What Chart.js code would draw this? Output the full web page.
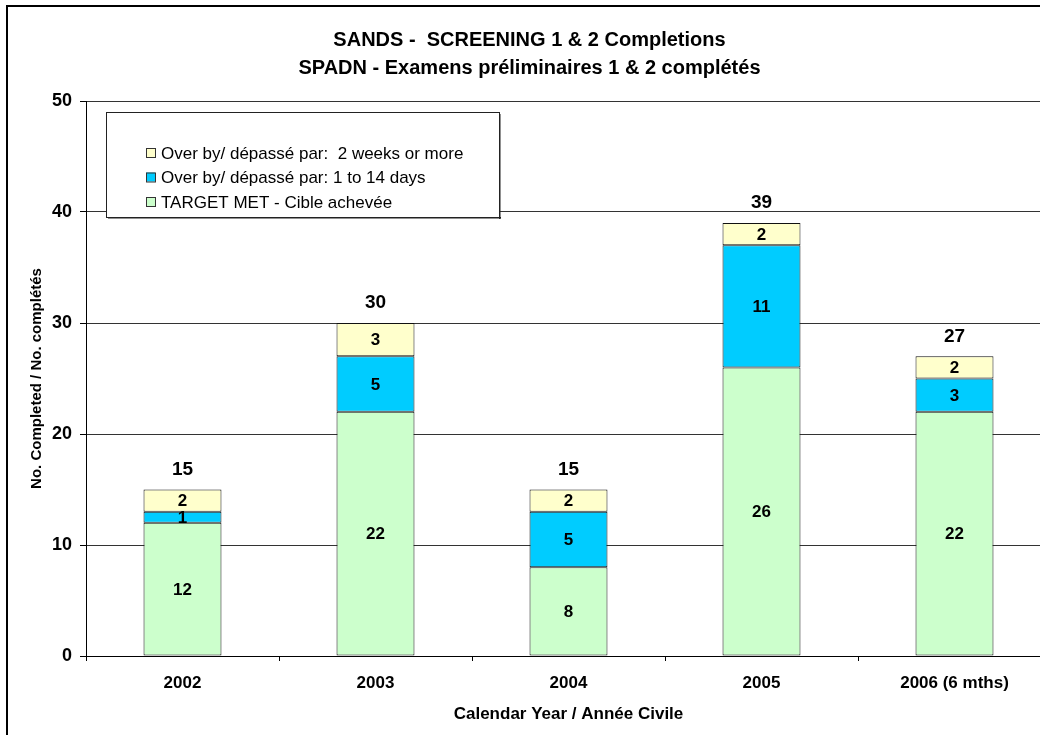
<!DOCTYPE html>
<html>
<head>
<meta charset="utf-8">
<title>SANDS - Screening 1 & 2 Completions</title>
<script src="https://cdn.jsdelivr.net/npm/chart.js@4.4.1/dist/chart.umd.min.js"></script>
<style>
  html, body { margin: 0; padding: 0; background: #fff; overflow: hidden; }
  #wrap { position: relative; width: 1060px; height: 735px; }
  #completionsChart { display: block; }
</style>
</head>
<body>
<div id="wrap"><canvas id="completionsChart" width="1060" height="735"></canvas></div>
<script>
const FONT = "'Liberation Sans', Arial, Helvetica, sans-serif";

const years = ['2002', '2003', '2004', '2005', '2006 (6 mths)'];
const targetMet = [12, 22, 8, 26, 22];
const overOneTo14Days = [1, 5, 5, 11, 3];
const overTwoWeeks = [2, 3, 2, 2, 2];
const yTicks = [0, 10, 20, 30, 40, 50];

const titleLines = ['SANDS -  SCREENING 1 & 2 Completions', 'SPADN - Examens préliminaires 1 & 2 complétés'];

Chart.defaults.font.family = FONT;
Chart.defaults.color = '#000';

// outer frame of the chart object
const frame = {
    id: 'frame',
    beforeDraw(chart) {
        const ctx = chart.ctx;
        ctx.save();
        ctx.fillStyle = '#fff';
        ctx.fillRect(0, 0, chart.width, chart.height);
        ctx.strokeStyle = '#000';
        ctx.lineWidth = 2;
        ctx.strokeRect(7, 6, chart.width + 20, chart.height + 20);
        ctx.restore();
    }
};

// values inside each segment and the stack total on top
const barLabels = {
    id: 'barLabels',
    afterDatasetsDraw(chart) {
        const ctx = chart.ctx;
        ctx.save();
        ctx.fillStyle = '#000';
        ctx.textAlign = 'center';
        ctx.textBaseline = 'middle';
        ctx.font = 'bold 17px ' + FONT;
        chart.data.datasets.forEach((ds, i) => {
            chart.getDatasetMeta(i).data.forEach((bar, j) => {
                ctx.fillText(ds.data[j], bar.x, (bar.y + bar.base) / 2 + 1);
            });
        });
        const topBars = chart.getDatasetMeta(chart.data.datasets.length - 1).data;
        ctx.font = 'bold 19px ' + FONT;
        topBars.forEach((bar, j) => {
            const total = chart.data.datasets.reduce((sum, ds) => sum + ds.data[j], 0);
            ctx.fillText(total, bar.x, bar.y - 20);
        });
        ctx.restore();
    }
};

// boxed legend sitting inside the plot area, top series listed first
const boxLegend = {
    id: 'boxLegend',
    afterDraw(chart) {
        const ctx = chart.ctx;
        const x = 106, y = 112, w = 393, h = 105;
        ctx.save();
        ctx.fillStyle = '#fff';
        ctx.fillRect(x, y, w, h);
        ctx.strokeStyle = '#222';
        ctx.lineWidth = 1;
        ctx.strokeRect(x + 0.5, y + 0.5, w, h);
        ctx.fillStyle = '#222';
        ctx.fillRect(x + w, y + 2, 1.5, h);
        ctx.fillRect(x + 2, y + h, w, 1.5);

        ctx.font = '17px ' + FONT;
        ctx.textBaseline = 'middle';
        const items = chart.data.datasets.slice().reverse();
        items.forEach((ds, k) => {
            const cy = 153 + k * 24.5;
            ctx.fillStyle = ds.backgroundColor;
            ctx.fillRect(146, cy - 5, 9, 9);
            ctx.strokeStyle = '#333';
            ctx.strokeRect(146.5, cy - 4.5, 9, 9);
            ctx.fillStyle = '#000';
            ctx.fillText(ds.label, 161, cy + 1);
        });
        ctx.restore();
    }
};

const barStyle = {
    borderColor: '#111',
    borderWidth: 1,
    borderSkipped: false,
    categoryPercentage: 0.404,
    barPercentage: 1
};

const ctx = document.getElementById('completionsChart').getContext('2d');
new Chart(ctx, {
    type: 'bar',
    data: {
        labels: years,
        datasets: [
            Object.assign({ label: 'TARGET MET - Cible achevée', data: targetMet, backgroundColor: '#CCFFCC' }, barStyle),
            Object.assign({ label: 'Over by/ dépassé par: 1 to 14 days', data: overOneTo14Days, backgroundColor: '#00CCFF' }, barStyle),
            Object.assign({ label: 'Over by/ dépassé par:  2 weeks or more', data: overTwoWeeks, backgroundColor: '#FFFFCC' }, barStyle)
        ]
    },
    options: {
        responsive: false,
        animation: false,
        devicePixelRatio: 1,
        layout: { padding: { top: 0, left: 8, right: 9, bottom: 0 } },
        plugins: {
            legend: { display: false },
            tooltip: { enabled: false },
            title: {
                display: true,
                text: titleLines,
                color: '#000',
                font: { size: 20, weight: 'bold', lineHeight: 1.4 },
                padding: { top: 26, bottom: 19 }
            }
        },
        scales: {
            x: {
                stacked: true,
                grid: {
                    offset: true,
                    drawOnChartArea: false,
                    tickLength: 5,
                    tickColor: '#000'
                },
                border: { color: '#000', width: 1 },
                ticks: {
                    font: { size: 17, weight: 'bold' },
                    color: '#000',
                    padding: 12,
                    maxRotation: 0
                },
                title: {
                    display: true,
                    text: 'Calendar Year / Année Civile',
                    font: { size: 17, weight: 'bold' },
                    color: '#000',
                    padding: { top: 0, bottom: 10 }
                },
                afterFit(scale) { scale.height = 79; }
            },
            y: {
                stacked: true,
                min: 0,
                max: 50,
                afterBuildTicks(scale) { scale.ticks = yTicks.map(v => ({ value: v })); },
                grid: {
                    color: '#333',
                    lineWidth: 1,
                    tickLength: 6,
                    tickColor: '#000'
                },
                border: { color: '#000', width: 1 },
                ticks: {
                    font: { size: 18, weight: 'bold' },
                    color: '#000',
                    padding: 8
                },
                title: {
                    display: true,
                    text: 'No. Completed / No. complétés',
                    font: { size: 15, weight: 'bold' },
                    color: '#000',
                    padding: { top: 20, bottom: 0 }
                },
                afterFit(scale) { scale.width = 78; }
            }
        }
    },
    plugins: [frame, barLabels, boxLegend]
});
</script>
</body>
</html>
